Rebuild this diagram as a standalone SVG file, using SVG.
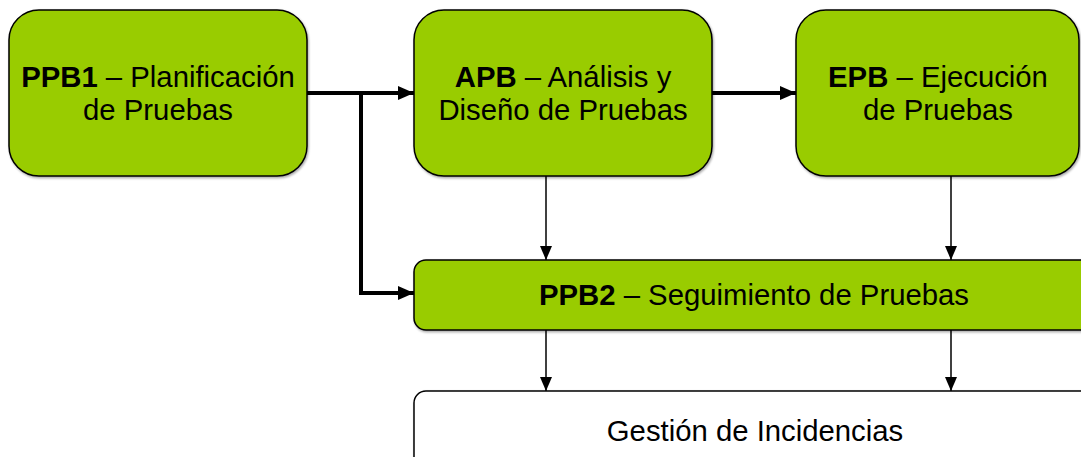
<svg xmlns="http://www.w3.org/2000/svg" width="1081" height="457" viewBox="0 0 1081 457">
<style>
.box{fill:#99CC00;stroke:#000;stroke-width:1.5}
.wbox{fill:#fff;stroke:#000;stroke-width:1.5}
.t{font-family:"Liberation Sans",Arial,sans-serif;font-size:29.3px;fill:#000;text-anchor:middle}
.b{font-weight:bold}
.thick{fill:none;stroke:#000;stroke-width:4}
.thin{fill:none;stroke:#000;stroke-width:1.5}
</style>
<defs>
<marker id="ah" markerUnits="userSpaceOnUse" markerWidth="16" markerHeight="16" viewBox="0 0 16 16" refX="16" refY="8" orient="auto">
<path d="M0,1 L16,8 L0,15 Z" fill="#000"/>
</marker>
<marker id="as" markerUnits="userSpaceOnUse" markerWidth="14" markerHeight="14" viewBox="0 0 14 14" refX="14" refY="7" orient="auto">
<path d="M0,1 L14,7 L0,13 Z" fill="#000"/>
</marker>
<filter id="sh" x="-5%" y="-5%" width="110%" height="115%">
<feDropShadow dx="1" dy="1.5" stdDeviation="0.8" flood-color="#000" flood-opacity="0.35"/>
</filter>
</defs>
<g id="connectors">
<path class="thick" d="M307,93 H414" marker-end="url(#ah)"/>
<path class="thick" d="M361,93 V293 H414" marker-end="url(#ah)"/>
<path class="thick" d="M712,93 H796" marker-end="url(#ah)"/>
<path class="thin" d="M546,176 V260" marker-end="url(#as)"/>
<path class="thin" d="M951,176 V260" marker-end="url(#as)"/>
<path class="thin" d="M546,330 V391" marker-end="url(#as)"/>
<path class="thin" d="M951,330 V391" marker-end="url(#as)"/>
</g>
<g id="ppb1">
<rect class="box" filter="url(#sh)" x="9" y="10" width="298" height="166" rx="30" ry="30"/>
<text class="t" x="158" y="87"><tspan class="b">PPB1</tspan> – Planificación</text>
<text class="t" x="158" y="120">de Pruebas</text>
</g>
<g id="apb">
<rect class="box" filter="url(#sh)" x="414" y="10" width="298" height="166" rx="30" ry="30"/>
<text class="t" x="563" y="87"><tspan class="b">APB</tspan> – Análisis y</text>
<text class="t" x="563" y="120">Diseño de Pruebas</text>
</g>
<g id="epb">
<rect class="box" filter="url(#sh)" x="796" y="10" width="283" height="166" rx="30" ry="30"/>
<text class="t" x="938" y="87"><tspan class="b">EPB</tspan> – Ejecución</text>
<text class="t" x="938" y="120">de Pruebas</text>
</g>
<g id="ppb2">
<rect class="box" filter="url(#sh)" x="414" y="260" width="700" height="70" rx="12" ry="12"/>
<text class="t" x="754" y="305"><tspan class="b">PPB2</tspan> – Seguimiento de Pruebas</text>
</g>
<g id="gestion">
<rect class="wbox" filter="url(#sh)" x="414" y="391" width="700" height="90" rx="12" ry="12"/>
<text class="t" x="755" y="441">Gestión de Incidencias</text>
</g>
</svg>
